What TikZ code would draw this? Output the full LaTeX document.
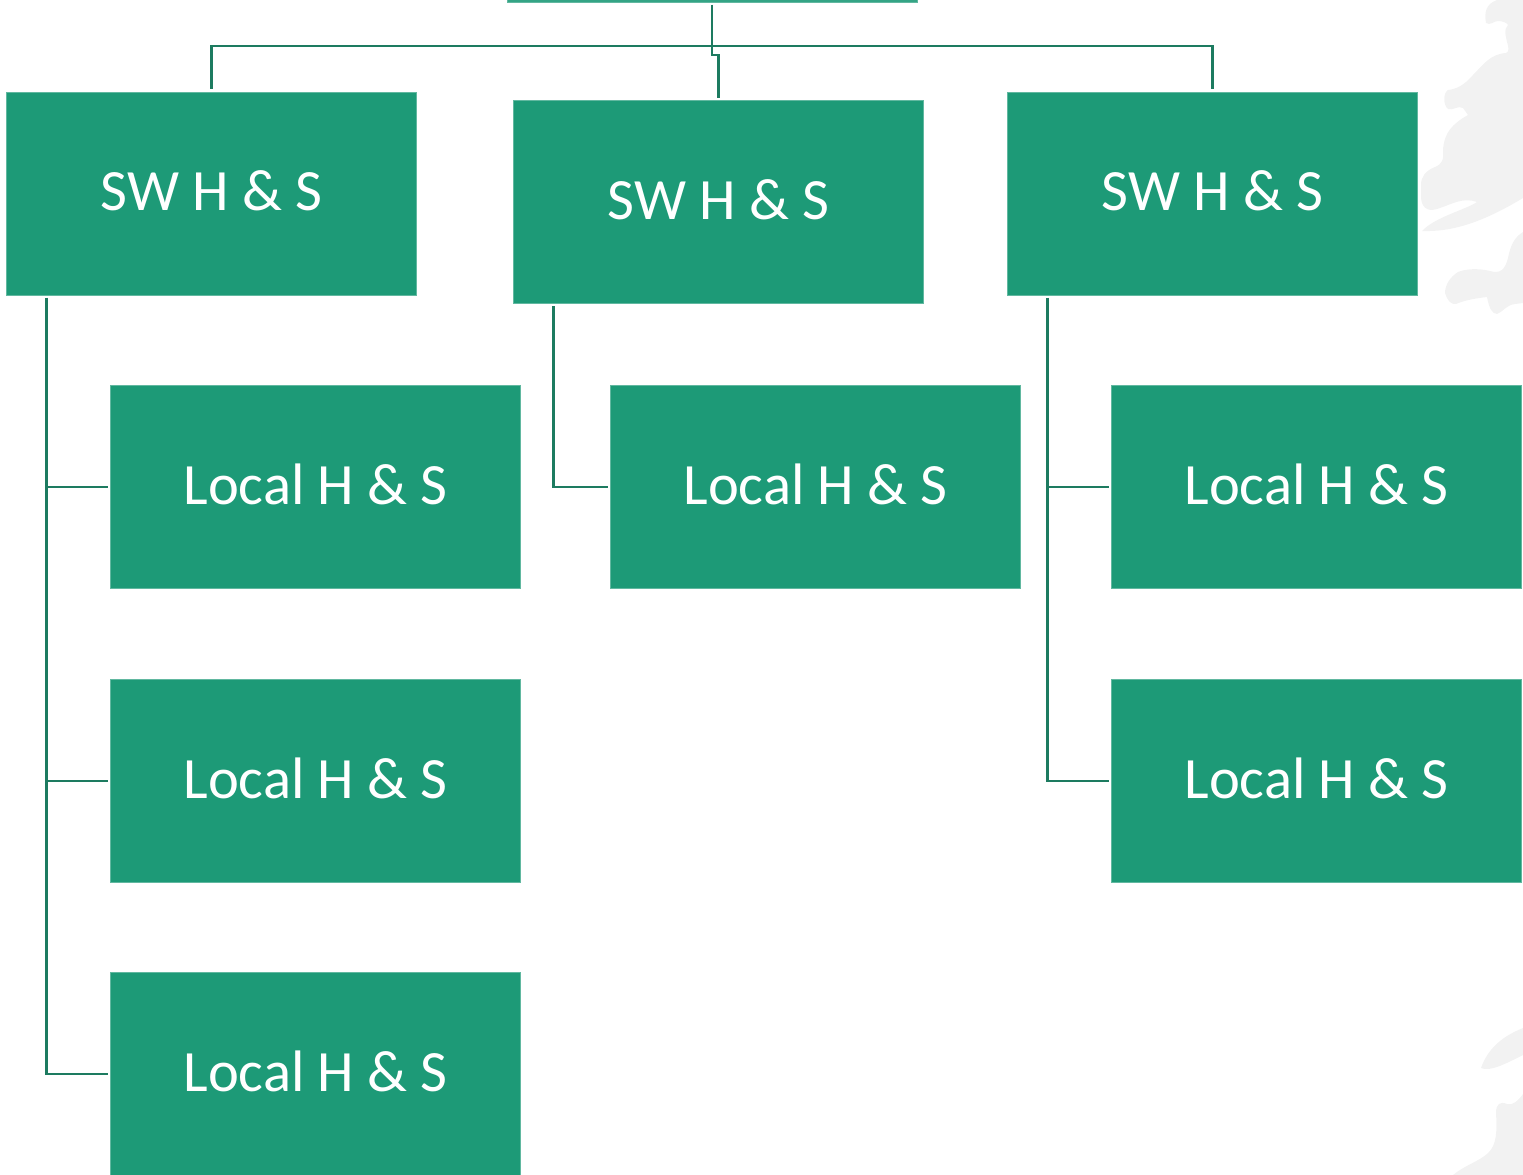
\documentclass[tikz,border=0pt]{standalone}
\usepackage{fontspec}
\setmainfont{Carlito}
\definecolor{boxgreen}{HTML}{1D9A77}
\definecolor{linkgreen}{HTML}{1D7B60}
\definecolor{mapgrey}{HTML}{F2F2F2}
\tikzset{
  orgbox/.style={fill=boxgreen,draw=boxgreen!70!white,line width=0.25pt,text=white,inner sep=0pt,outer sep=1.7pt,
    minimum width=8.2cm,minimum height=4.06cm,text depth=3pt,
    font=\fontsize{33.3}{40}\selectfont},
  link/.style={draw=linkgreen,line width=1.6pt},
  mapland/.style={fill=mapgrey,draw=none}
}

\begin{document}
\begin{tikzpicture}[x=0.02cm,y=-0.02cm]
    \useasboundingbox (0,0) rectangle (1523,1175);
    % map behind the chart
    \path[mapland] (1523,0) -- (1497,0) .. controls (1486,4) and (1484,12) .. (1486,23)
        .. controls (1490,26) and (1494,21) .. (1498,21) .. controls (1503,21) and (1507,23) .. (1508,25)
        .. controls (1503,30) and (1506,36) .. (1507,42) .. controls (1509,48) and (1509,52) .. (1506,53)
        .. controls (1490,54) and (1483,65) .. (1472,76) .. controls (1464,85) and (1457,89) .. (1448,90)
        .. controls (1443,93) and (1443,105) .. (1448,109) .. controls (1453,111) and (1458,105) .. (1463,108)
        -- (1468,115) .. controls (1452,124) and (1444,133) .. (1443,150)
        .. controls (1444,160) and (1442,164) .. (1435,167) .. controls (1425,171) and (1421,177) .. (1421,185)
        -- (1421,198) .. controls (1422,210) and (1430,212) .. (1440,208)
        .. controls (1452,204) and (1463,197) .. (1477,202) .. controls (1465,210) and (1435,217) .. (1422,231)
        .. controls (1450,232) and (1480,224) .. (1523,198) -- cycle;
    \path[mapland] (1523,232) .. controls (1513,238) and (1510,248) .. (1508,258)
        .. controls (1505,270) and (1500,274) .. (1490,271) .. controls (1478,268) and (1465,269) .. (1458,272)
        .. controls (1450,277) and (1445,285) .. (1445,293) .. controls (1447,300) and (1451,305) .. (1456,304)
        .. controls (1465,300) and (1478,298) .. (1487,297) .. controls (1489,308) and (1492,314) .. (1497,314)
        .. controls (1503,312) and (1506,305) .. (1515,304) -- (1523,303) -- cycle;
    \path[mapland] (1523,1028) .. controls (1503,1036) and (1488,1048) .. (1481,1068)
        .. controls (1490,1072) and (1505,1064) .. (1523,1055) -- cycle;
    \path[mapland] (1523,1094) .. controls (1518,1101) and (1512,1106) .. (1507,1104)
        .. controls (1500,1101) and (1496,1104) .. (1496,1113) .. controls (1497,1130) and (1497,1145) .. (1488,1153)
        .. controls (1480,1161) and (1465,1165) .. (1453,1175) -- (1523,1175) -- cycle;

    % boxes
    \node[orgbox,minimum height=0.05cm,text depth=0pt,fill=boxgreen!90!white] (head) at (712,0.5) {};
    \node[orgbox] (swa) at (211.5,193.5) {SW H \& S};
    \node[orgbox] (swb) at (718.5,202) {SW H \& S};
    \node[orgbox] (swc) at (1212.5,193.5) {SW H \& S};
    \node[orgbox] (locaa) at (315.5,487) {Local H \& S};
    \node[orgbox] (locab) at (315.5,781) {Local H \& S};
    \node[orgbox] (locac) at (315.5,1074) {Local H \& S};
    \node[orgbox] (locba) at (815.5,487) {Local H \& S};
    \node[orgbox] (locca) at (1316.5,487) {Local H \& S};
    \node[orgbox] (loccb) at (1316.5,781) {Local H \& S};

    % links
    \coordinate (hub) at (712,46);
    \coordinate (jog) at (712,55);
    \draw[link] (head.south) -- (hub) -| (swa.north);
    \draw[link] (hub) -| (swc.north);
    \draw[link] (hub) -- (jog) -| (swb.north);
    \draw[link] (swa.south west) ++(43,0) |- (locac.west);
    \draw[link] (swa.south west) ++(43,0) |- (locaa.west);
    \draw[link] (swa.south west) ++(43,0) |- (locab.west);
    \draw[link] (swb.south west) ++(43,0) |- (locba.west);
    \draw[link] (swc.south west) ++(43,0) |- (locca.west);
    \draw[link] (swc.south west) ++(43,0) |- (loccb.west);
\end{tikzpicture}
\end{document}
